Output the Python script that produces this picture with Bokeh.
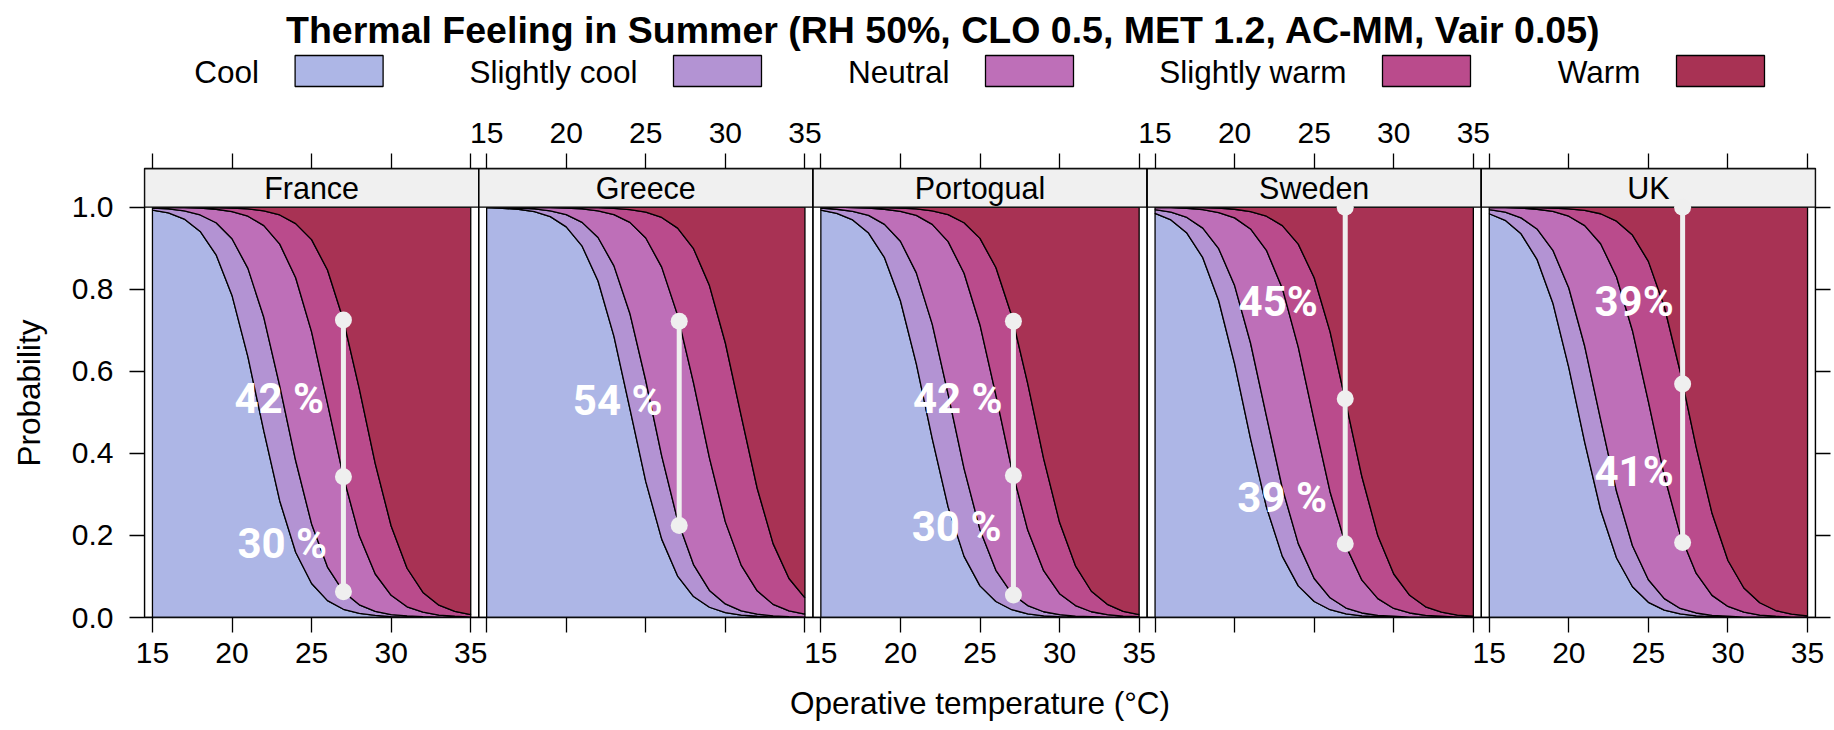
from bokeh.plotting import figure
from bokeh.models import Range1d, LinearAxis, FixedTicker, PrintfTickFormatter
from bokeh.layouts import column
from bokeh.embed import file_html
from bokeh.resources import INLINE
from bokeh.core.properties import value

# ---------------- data ----------------
title_text = "Thermal Feeling in Summer (RH 50%, CLO 0.5, MET 1.2, AC-MM, Vair 0.05)"
countries = ["France", "Greece", "Portogual", "Sweden", "UK"]
categories = ["Cool", "Slightly cool", "Neutral", "Slightly warm", "Warm"]
colors = ["#adb6e6", "#b393d3", "#be6fb8", "#ba4b8c", "#a83254"]
temperature = list(range(15, 36))          # operative temperature (°C)
x_ticks = [15, 20, 25, 30, 35]
y_ticks = [0.0, 0.2, 0.4, 0.6, 0.8, 1.0]

# cumulative probabilities P(feeling <= category) at each temperature
france_cum_cool = [0.993, 0.986, 0.971, 0.941, 0.884, 0.785, 0.635, 0.454, 0.284, 0.159, 0.083, 0.041, 0.020, 0.010, 0.005, 0.002, 0.001, 0.000, 0.000, 0.000, 0.000]
france_cum_slightly_cool = [0.998, 0.996, 0.991, 0.981, 0.962, 0.923, 0.851, 0.731, 0.564, 0.382, 0.228, 0.123, 0.063, 0.031, 0.015, 0.007, 0.004, 0.002, 0.001, 0.000, 0.000]
france_cum_neutral = [1.000, 0.999, 0.999, 0.998, 0.995, 0.989, 0.978, 0.955, 0.910, 0.828, 0.696, 0.522, 0.343, 0.199, 0.106, 0.054, 0.026, 0.013, 0.006, 0.003, 0.001]
france_cum_slightly_warm = [1.000, 1.000, 1.000, 1.000, 0.999, 0.998, 0.996, 0.991, 0.981, 0.960, 0.921, 0.847, 0.725, 0.557, 0.375, 0.223, 0.120, 0.061, 0.030, 0.015, 0.007]

greece_cum_cool = [0.999, 0.997, 0.995, 0.989, 0.977, 0.952, 0.905, 0.820, 0.685, 0.509, 0.331, 0.191, 0.101, 0.051, 0.025, 0.012, 0.006, 0.003, 0.001, 0.001, 0.000]
greece_cum_slightly_cool = [1.000, 0.999, 0.998, 0.996, 0.991, 0.982, 0.963, 0.926, 0.857, 0.741, 0.577, 0.394, 0.237, 0.129, 0.066, 0.033, 0.016, 0.008, 0.004, 0.002, 0.001]
greece_cum_neutral = [1.000, 1.000, 1.000, 0.999, 0.999, 0.998, 0.996, 0.991, 0.982, 0.963, 0.925, 0.854, 0.737, 0.572, 0.389, 0.233, 0.127, 0.065, 0.032, 0.016, 0.008]
greece_cum_slightly_warm = [1.000, 1.000, 1.000, 1.000, 1.000, 1.000, 0.999, 0.999, 0.997, 0.994, 0.988, 0.975, 0.949, 0.899, 0.809, 0.669, 0.491, 0.315, 0.180, 0.095, 0.048]

portugal_cum_cool = [0.993, 0.985, 0.969, 0.937, 0.877, 0.772, 0.618, 0.436, 0.269, 0.149, 0.077, 0.039, 0.019, 0.009, 0.004, 0.002, 0.001, 0.000, 0.000, 0.000, 0.000]
portugal_cum_slightly_cool = [0.998, 0.995, 0.990, 0.980, 0.958, 0.917, 0.840, 0.715, 0.544, 0.363, 0.214, 0.115, 0.058, 0.029, 0.014, 0.007, 0.003, 0.002, 0.001, 0.000, 0.000]
portugal_cum_neutral = [1.000, 1.000, 0.999, 0.998, 0.995, 0.990, 0.980, 0.958, 0.916, 0.839, 0.713, 0.542, 0.361, 0.213, 0.114, 0.058, 0.029, 0.014, 0.007, 0.003, 0.002]
portugal_cum_slightly_warm = [1.000, 1.000, 1.000, 1.000, 0.999, 0.998, 0.996, 0.991, 0.982, 0.962, 0.924, 0.853, 0.735, 0.570, 0.387, 0.232, 0.126, 0.064, 0.032, 0.015, 0.007]

sweden_cum_cool = [0.985, 0.969, 0.937, 0.877, 0.772, 0.618, 0.436, 0.269, 0.149, 0.077, 0.039, 0.019, 0.009, 0.004, 0.002, 0.001, 0.000, 0.000, 0.000, 0.000, 0.000]
sweden_cum_slightly_cool = [0.994, 0.988, 0.975, 0.949, 0.899, 0.809, 0.669, 0.491, 0.315, 0.180, 0.095, 0.048, 0.023, 0.011, 0.005, 0.003, 0.001, 0.001, 0.000, 0.000, 0.000]
sweden_cum_neutral = [0.999, 0.999, 0.997, 0.994, 0.987, 0.974, 0.947, 0.895, 0.802, 0.659, 0.480, 0.306, 0.174, 0.091, 0.046, 0.022, 0.011, 0.005, 0.003, 0.001, 0.001]
sweden_cum_slightly_warm = [1.000, 1.000, 0.999, 0.999, 0.998, 0.995, 0.989, 0.978, 0.955, 0.910, 0.828, 0.696, 0.522, 0.343, 0.199, 0.106, 0.054, 0.026, 0.013, 0.006, 0.003]

uk_cum_cool = [0.984, 0.968, 0.935, 0.873, 0.766, 0.609, 0.427, 0.262, 0.145, 0.075, 0.037, 0.018, 0.009, 0.004, 0.002, 0.001, 0.000, 0.000, 0.000, 0.000, 0.000]
uk_cum_slightly_cool = [0.994, 0.988, 0.974, 0.947, 0.895, 0.803, 0.661, 0.482, 0.307, 0.175, 0.092, 0.046, 0.022, 0.011, 0.005, 0.003, 0.001, 0.001, 0.000, 0.000, 0.000]
uk_cum_neutral = [0.999, 0.999, 0.998, 0.995, 0.990, 0.978, 0.955, 0.911, 0.830, 0.699, 0.526, 0.346, 0.202, 0.108, 0.054, 0.027, 0.013, 0.006, 0.003, 0.001, 0.001]
uk_cum_slightly_warm = [1.000, 1.000, 1.000, 0.999, 0.998, 0.996, 0.992, 0.984, 0.966, 0.932, 0.868, 0.758, 0.599, 0.416, 0.254, 0.139, 0.072, 0.036, 0.017, 0.008, 0.004]

cumulative = {
    "France": [france_cum_cool, france_cum_slightly_cool, france_cum_neutral, france_cum_slightly_warm],
    "Greece": [greece_cum_cool, greece_cum_slightly_cool, greece_cum_neutral, greece_cum_slightly_warm],
    "Portogual": [portugal_cum_cool, portugal_cum_slightly_cool, portugal_cum_neutral, portugal_cum_slightly_warm],
    "Sweden": [sweden_cum_cool, sweden_cum_slightly_cool, sweden_cum_neutral, sweden_cum_slightly_warm],
    "UK": [uk_cum_cool, uk_cum_slightly_cool, uk_cum_neutral, uk_cum_slightly_warm],
}

# highlighted temperature and probability points per country
marker_temperature = [27.0, 27.1, 27.1, 26.95, 27.15]
marker_probs = [
    [0.725, 0.343, 0.063],
    [0.722, 0.224],
    [0.722, 0.346, 0.055],
    [1.0, 0.533, 0.180],
    [1.0, 0.569, 0.183],
]
# percentage annotations: (text, temperature, probability)
annotations = [
    [("42 %", 22.97, 0.533), ("30 %", 23.16, 0.180)],
    [("54 %", 23.23, 0.528)],
    [("42 %", 23.60, 0.533), ("30 %", 23.53, 0.223)],
    [("45%", 22.74, 0.771), ("39 %", 22.99, 0.292)],
    [("39%", 24.10, 0.771), ("41%", 24.10, 0.357)],
]

# ---------------- layout constants ----------------
FONT = value("Liberation Sans")
SPAN = 21                 # width of one panel in temperature units
X_LO, X_HI = 14.5, 35.5
STRIP_TOP = 1.0943        # strip drawn above probability 1.0
HEADER_H = 100
W = 1834
FRAME_L, FRAME_R = 144, 1815

# ---------------- header (title + key) ----------------
h = figure(width=W, height=HEADER_H, x_range=Range1d(FRAME_L, FRAME_R), y_range=Range1d(HEADER_H, 0),
           x_axis_type=None, y_axis_type=None, toolbar_location=None,
           output_backend="svg", min_border=0, min_border_left=FRAME_L, min_border_right=W - FRAME_R)
h.outline_line_color = None
h.text(x=[943], y=[29], text=[title_text], text_font=FONT, text_font_style="bold",
       text_font_size="37.5px", text_align="center", text_baseline="middle", text_color="black")
box_left = [294.6, 673, 985, 1382, 1676]
h.quad(left=box_left, right=[b + 88 for b in box_left], top=[55] * 5, bottom=[86] * 5,
       fill_color=colors, line_color="black", line_width=1.3)
h.text(x=[b - 36 for b in box_left], y=[71] * 5, text=categories, text_font=FONT,
       text_font_size="31.5px", text_align="right", text_baseline="middle", text_color="black")

# ---------------- panels ----------------
p = figure(width=W, height=730 - HEADER_H,
           x_range=Range1d(X_LO, X_HI + SPAN * (len(countries) - 1)),
           y_range=Range1d(0, STRIP_TOP),
           x_axis_type=None, y_axis_type=None, toolbar_location=None, output_backend="svg",
           min_border_left=FRAME_L, min_border_right=W - FRAME_R, min_border_top=168 - HEADER_H,
           min_border_bottom=113)
p.outline_line_color = "black"
p.outline_line_width = 1.3

for i, c in enumerate(countries):
    off = SPAN * i
    xs_fwd = [t + off for t in temperature]
    bounds = [[0.0] * len(temperature)] + cumulative[c] + [[1.0] * len(temperature)]
    xs, ys = [], []
    for k in range(len(categories)):
        lower, upper = bounds[k], bounds[k + 1]
        xs.append(xs_fwd + xs_fwd[::-1])
        ys.append(upper + lower[::-1])
    p.patches(xs=xs, ys=ys, fill_color=colors, line_color="black", line_width=1.3)

    # strip and panel border
    p.quad(left=[X_LO + off], right=[X_HI + off], bottom=[1.0], top=[STRIP_TOP],
           fill_color="#f0f0f0", line_color="black", line_width=1.3)
    p.quad(left=[X_LO + off], right=[X_HI + off], bottom=[0], top=[STRIP_TOP],
           fill_color=None, line_color="black", line_width=1.3)
    p.text(x=[25 + off], y=[(1.0 + STRIP_TOP) / 2], text=[c], text_font=FONT,
           text_font_size="30.5px", text_align="center", text_baseline="middle", text_color="black")

    # highlighted range
    mt = marker_temperature[i] + off
    pr = marker_probs[i]
    p.segment(x0=[mt], y0=[min(pr)], x1=[mt], y1=[max(pr)], line_color="#efefef", line_width=5)
    p.scatter(x=[mt] * len(pr), y=pr, size=17, fill_color="#efefef", line_color=None)
    for txt, tx, ty in annotations[i]:
        p.text(x=[tx + off], y=[ty], text=[txt], text_font=value("Roboto"), text_font_style="bold",
               text_font_size="42px", text_align="center", text_baseline="middle", text_color="white")

def style_axis(ax):
    ax.axis_line_color = None
    ax.major_tick_in = 0
    ax.major_tick_out = 15
    ax.minor_tick_in = 0
    ax.minor_tick_out = 15
    ax.major_tick_line_width = 1.3
    ax.minor_tick_line_width = 1.3
    ax.major_tick_line_color = "black"
    ax.minor_tick_line_color = "black"
    ax.major_label_text_font = "Liberation Sans"
    ax.major_label_text_font_size = "30px"
    ax.major_label_text_color = "black"
    ax.axis_label_text_font = "Liberation Sans"
    ax.axis_label_text_font_size = "31.5px"
    ax.axis_label_text_font_style = "normal"
    ax.axis_label_text_color = "black"

bottom_panels = [0, 2, 4]
top_panels = [1, 3]
bottom = LinearAxis(ticker=FixedTicker(ticks=[t + SPAN * i for i in bottom_panels for t in x_ticks],
                                       minor_ticks=[t + SPAN * i for i in top_panels for t in x_ticks]),
                    axis_label="Operative temperature (°C)")
bottom.major_label_overrides = {t + SPAN * i: str(t) for i in bottom_panels for t in x_ticks}
style_axis(bottom)
bottom.major_label_standoff = 10
bottom.axis_label_standoff = 19
p.add_layout(bottom, "below")

top = LinearAxis(ticker=FixedTicker(ticks=[t + SPAN * i for i in top_panels for t in x_ticks],
                                    minor_ticks=[t + SPAN * i for i in bottom_panels for t in x_ticks]))
top.major_label_overrides = {t + SPAN * i: str(t) for i in top_panels for t in x_ticks}
style_axis(top)
top.major_label_standoff = 11
p.add_layout(top, "above")

left = LinearAxis(ticker=FixedTicker(ticks=y_ticks), formatter=PrintfTickFormatter(format="%.1f"),
                  axis_label="Probability")
style_axis(left)
left.major_label_standoff = 16
left.axis_label_standoff = 22
p.add_layout(left, "left")

right = LinearAxis(ticker=FixedTicker(ticks=[], minor_ticks=y_ticks))
style_axis(right)
p.add_layout(right, "right")

layout = column(h, p, spacing=0)
open("out.html", "w").write(file_html(layout, INLINE))
